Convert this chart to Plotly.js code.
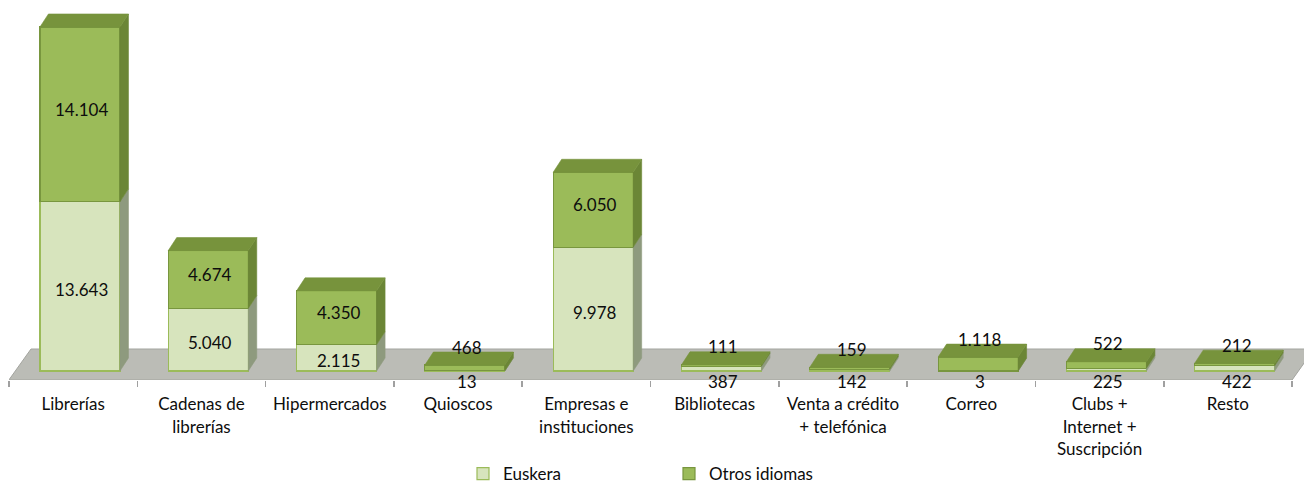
<!DOCTYPE html>
<html>
<head>
<meta charset="utf-8">
<script src="https://cdn.plot.ly/plotly-3.0.1.min.js"></script>
<style>html,body{margin:0;padding:0;background:#fff;}#chart{width:1304px;height:486px;}</style>
</head>
<body>
<div id="chart"></div>
<script>
// ---- data ----
const categories = ["Librerías", "Cadenas de<br>librerías", "Hipermercados", "Quioscos", "Empresas e<br>instituciones", "Bibliotecas", "Venta a crédito<br>+ telefónica", "Correo", "Clubs +<br>Internet +<br>Suscripción", "Resto"];
const seriesNames = ["Euskera", "Otros idiomas"];
const euskera = [13643, 5040, 2115, 13, 9978, 387, 142, 3, 225, 422];
const otros = [14104, 4674, 4350, 468, 6050, 111, 159, 1118, 522, 212];

// ---- styling / geometry constants ----
const W = 1304, H = 486;
const margin = {l: 9, r: 0, t: 5, b: 106, autoexpand: false};
const xRange = [-0.5, 9.593];
const yRange = [-726, 29520];
const plotW = W - margin.l - margin.r;
const plotH = H - margin.t - margin.b;
const pxX = plotW / (xRange[1] - xRange[0]);   // px per x unit
const pxY = plotH / (yRange[1] - yRange[0]);   // px per y unit
const barShift = 6.8 / pxX;      // bars sit mid-depth on the floor
const barWidth = 80 / pxX;
const depthX = 8.5 / pxX, depthY = 13 / pxY;  // bar 3D depth
const floorDX = 22 / pxX, floorDY = 31 / pxY; // floor depth
const C = {
  eusFront: "#d7e4bd", eusLine: "#9bbb59", eusSide: "#8e9a7e",
  otrFront: "#9bbb59", otrLine: "#78963e", otrSide: "#6b8636", otrTop: "#77933c",
  floor: "#bbbcb6", floorLine: "#a3a49f", tick: "#a0a0a0"
};
const FONT = "Lato, 'Open Sans', sans-serif";
const TXT = "#0d0d0d";

function fmt(v) { return String(v).replace(/\B(?=(\d{3})+(?!\d))/g, "."); }

const idx = categories.map((_, i) => i);
const xs = idx.map(i => i + barShift);
const totals = idx.map(i => euskera[i] + otros[i]);

// front faces: stacked bars
const traces = [
  {type: "bar", name: seriesNames[0], x: xs, y: euskera, width: barWidth,
   marker: {color: C.eusFront, line: {color: C.eusLine, width: 1.2}}, hoverinfo: "skip"},
  {type: "bar", name: seriesNames[1], x: xs, y: otros, width: barWidth,
   marker: {color: C.otrFront, line: {color: C.otrLine, width: 1.2}}, hoverinfo: "skip"}
];

// side & top faces built from the same data
function sidePoly(lows, highs) {
  const px = [], py = [];
  idx.forEach(i => {
    const xr = xs[i] + barWidth / 2;
    px.push(xr, xr + depthX, xr + depthX, xr, xr, null);
    py.push(lows[i], lows[i] + depthY, highs[i] + depthY, highs[i], lows[i], null);
  });
  return {px, py};
}
function topPoly(tops) {
  const px = [], py = [];
  idx.forEach(i => {
    const xl = xs[i] - barWidth / 2, xr = xs[i] + barWidth / 2;
    px.push(xl, xl + depthX, xr + depthX, xr, xl, null);
    py.push(tops[i], tops[i] + depthY, tops[i] + depthY, tops[i], tops[i], null);
  });
  return {px, py};
}
const zeros = idx.map(() => 0);
const s1 = sidePoly(zeros, euskera);
const s2 = sidePoly(euskera, totals);
const t2 = topPoly(totals);
[[s1, C.eusSide], [s2, C.otrSide], [t2, C.otrTop]].forEach(([p, col]) => {
  traces.push({type: "scatter", mode: "lines", x: p.px, y: p.py, fill: "toself",
    fillcolor: col, line: {color: col, width: 0.6}, showlegend: false, hoverinfo: "skip"});
});

// data labels
const annotations = [];
idx.forEach(i => {
  const e = euskera[i], o = otros[i];
  const eSmall = e * pxY < 20, oSmall = o * pxY < 20;
  annotations.push({x: xs[i] + 2 / pxX, y: eSmall ? 0 : e / 2, yshift: eSmall ? -10 : -3,
    text: fmt(e), showarrow: false, xref: "x", yref: "y",
    font: {family: FONT, size: 17, color: TXT}});
  annotations.push({x: xs[i] + 2 / pxX, y: oSmall ? e + o : e + o / 2, yshift: oSmall ? 18 : 5,
    text: fmt(o), showarrow: false, xref: "x", yref: "y",
    font: {family: FONT, size: 17, color: TXT}});
});

// floor (plot decoration)
const fy0 = yRange[0], fy1 = yRange[0] + floorDY;
const shapes = [{
  type: "path", xref: "x", yref: "y", layer: "below",
  path: `M${xRange[0] - 0.001},${fy0} L${-0.5 + floorDX},${fy1} L${9.5 + floorDX},${fy1} L9.5,${fy0} Z`,
  fillcolor: C.floor, line: {color: C.floorLine, width: 1}
}];

const boundaries = [];
for (let i = 0; i <= categories.length; i++) boundaries.push(i - 0.5);

const layout = {
  width: W, height: H, margin: margin,
  paper_bgcolor: "#fff", plot_bgcolor: "rgba(0,0,0,0)",
  barmode: "stack", bargap: 0,
  showlegend: true,
  font: {family: FONT, size: 17, color: TXT},
  xaxis: {range: xRange, tickmode: "array", tickvals: idx, ticktext: categories,
    showgrid: false, zeroline: false, showline: false,
    ticks: "outside", ticklen: 9, tickcolor: "rgba(0,0,0,0)",
    tickfont: {family: FONT, size: 17, color: TXT}, fixedrange: true, automargin: false},
  xaxis2: {range: xRange, overlaying: "x", anchor: "y", side: "bottom",
    tickmode: "array", tickvals: boundaries, showticklabels: false,
    ticks: "outside", ticklen: 6, tickwidth: 1.5, tickcolor: C.tick,
    showgrid: false, zeroline: false, showline: false, automargin: false},
  yaxis: {range: yRange, visible: false, fixedrange: true},
  legend: {orientation: "h", xref: "container", yref: "container",
    x: 463 / W, xanchor: "left", y: 12 / H, yanchor: "middle",
    font: {family: FONT, size: 17, color: TXT}, entrywidth: 161, traceorder: "normal",
    itemwidth: 30},
  shapes: shapes,
  annotations: annotations
};

// ticks trace on xaxis2 (invisible) so the axis is rendered
traces.push({type: "scatter", x: [0], y: [0], xaxis: "x2", mode: "markers",
  marker: {opacity: 0}, showlegend: false, hoverinfo: "skip"});

Plotly.newPlot("chart", traces, layout, {displayModeBar: false, staticPlot: true});
</script>
</body>
</html>
